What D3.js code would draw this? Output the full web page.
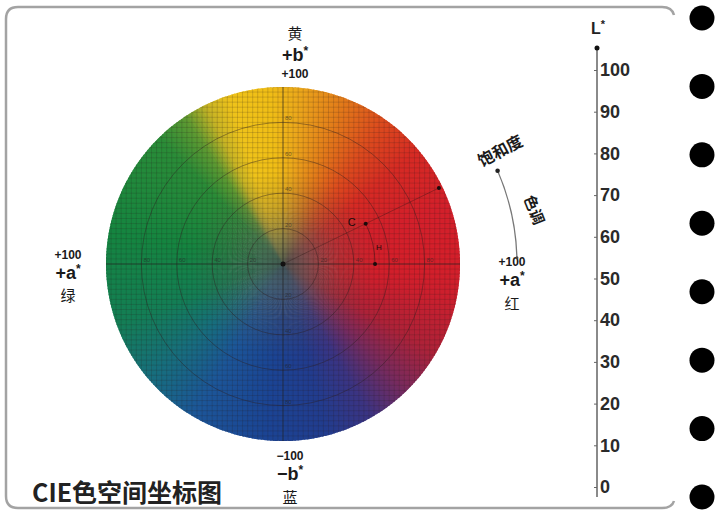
<!DOCTYPE html>
<html>
<head>
<meta charset="utf-8">
<script src="https://cdn.jsdelivr.net/npm/d3@7"></script>
<style>
  body { margin: 0; background: #fff; }
  svg { display: block; }
</style>
</head>
<body>
<svg width="719" height="514"></svg>
<script>
// hue stops round the a*b* wheel, degrees counter-clockwise from +a*
const hueAngles = [0, 20, 40, 55, 70, 85, 95, 108, 116, 124, 135, 170, 200, 220, 240, 265, 285, 300, 315, 330, 350, 360];
const hueColors = ["#d41f2a", "#d3202b", "#d62a24", "#dc4a1e", "#e27a1a", "#eba81b", "#f0be16", "#efc31a",
                   "#c8b425", "#5e9a32", "#2a8c38", "#158540", "#147e55", "#176f7c", "#1c5698", "#1b4494",
                   "#223c8e", "#3b3483", "#7a2a5c", "#ad2238", "#cd1f2d", "#d41f2a"];
const ringValues = [20, 40, 60, 80];
const lTicks = [0, 10, 20, 30, 40, 50, 60, 70, 80, 90, 100];
const holes = [0, 1, 2, 3, 4, 5, 6, 7];
// sample colour: hue angle, chroma of hue arc, chroma of outer point
const sample = {hue: 26, arc: 52, outer: 98};
// axis end labels: top, left, right, bottom
const ends = [
    {name: "黄", axis: "+b", value: "+100"},
    {name: "绿", axis: "+a", value: "+100"},
    {name: "红", axis: "+a", value: "+100"},
    {name: "蓝", axis: "−b", value: "−100"}
];

const svg = d3.select("svg");
const cx = 283, cy = 264, R = 177;
const sans = "'Liberation Sans', Arial, sans-serif";
const cjk = "'Noto Sans CJK SC', sans-serif";

// scales
const x = d3.scaleLinear().domain([-100, 100]).range([-R, R]);
const y = d3.scaleLinear().domain([-100, 100]).range([R, -R]);
const chroma = d3.scaleLinear().domain([0, 100]).range([0, R]);
const hueColor = d3.scaleLinear().domain(hueAngles).range(hueColors).interpolate(d3.interpolateRgb);
const rad = Math.PI / 180;

// border (right side is open)
svg.append("path")
    .attr("d", "M674,15 Q672,7 662,7 L18,7 Q6,7 6,19 L6,496 Q6,508 18,508 L662,508 Q672,508 674,501")
    .attr("fill", "none")
    .attr("stroke", "#a3a3a3")
    .attr("stroke-width", 2.5);

const defs = svg.append("defs");
defs.append("clipPath").attr("id", "wheelClip")
  .append("circle").attr("r", R);

const grad = defs.append("radialGradient").attr("id", "desat");
grad.append("stop").attr("offset", "0%").attr("stop-color", "#3f524d").attr("stop-opacity", 0.9);
grad.append("stop").attr("offset", "15%").attr("stop-color", "#4d5a55").attr("stop-opacity", 0.6);
grad.append("stop").attr("offset", "32%").attr("stop-color", "#5e5a50").attr("stop-opacity", 0.25);
grad.append("stop").attr("offset", "52%").attr("stop-color", "#605448").attr("stop-opacity", 0);

const wheel = svg.append("g")
    .attr("transform", `translate(${cx},${cy})`);

// hue wedges
const arc = d3.arc().innerRadius(0).outerRadius(R);
wheel.append("g").selectAll("path")
    .data(d3.range(0, 360, 1))
    .join("path")
      .attr("d", d => arc({startAngle: (90 - d - 1.3) * rad, endAngle: (90 - d + 0.3) * rad}))
      .attr("fill", d => hueColor(d + 0.5));

wheel.append("circle")
    .attr("r", R)
    .attr("fill", "url(#desat)");

// fine grid
const gridVals = d3.range(-100, 100.01, 20 / 7);
const grid = wheel.append("g").attr("clip-path", "url(#wheelClip)")
    .attr("stroke", "#2a1e1e").attr("stroke-opacity", 0.22).attr("stroke-width", 0.8);
grid.selectAll("line.v").data(gridVals).join("line").attr("class", "v")
    .attr("x1", d => x(d)).attr("x2", d => x(d)).attr("y1", -R).attr("y2", R);
grid.selectAll("line.h").data(gridVals).join("line").attr("class", "h")
    .attr("y1", d => y(d)).attr("y2", d => y(d)).attr("x1", -R).attr("x2", R);

// rings
wheel.selectAll("circle.ring")
    .data(ringValues)
    .join("circle")
      .attr("class", "ring")
      .attr("r", d => chroma(d))
      .attr("fill", "none")
      .attr("stroke", "#2a1c1c")
      .attr("stroke-opacity", 0.42)
      .attr("stroke-width", 1);

// axes through centre
wheel.append("line").attr("x1", x(-100)).attr("x2", x(100)).attr("y1", 0).attr("y2", 0)
    .attr("stroke", "#222").attr("stroke-opacity", 0.55);
wheel.append("line").attr("y1", y(-100)).attr("y2", y(100)).attr("x1", 0).attr("x2", 0)
    .attr("stroke", "#222").attr("stroke-opacity", 0.55);
wheel.append("circle").attr("r", 2.5).attr("fill", "#111");

// tiny ring labels on the axes
const tiny = wheel.append("g")
    .style("font-family", sans).style("font-size", "6px").attr("fill", "#222").attr("fill-opacity", 0.6);
ringValues.forEach(v => {
    tiny.append("text").attr("x", x(v) + 2).attr("y", -2).text(v);
    tiny.append("text").attr("x", x(-v) + 2).attr("y", -2).text(v);
    tiny.append("text").attr("x", 2).attr("y", y(v) - 2).text(v);
    tiny.append("text").attr("x", 2).attr("y", y(-v) - 2).text(v);
});

// sample point: chroma line and hue arc
const hx = v => chroma(v) * Math.cos(sample.hue * rad);
const hy = v => -chroma(v) * Math.sin(sample.hue * rad);
wheel.append("line").attr("x1", 0).attr("y1", 0).attr("x2", hx(sample.outer)).attr("y2", hy(sample.outer))
    .attr("stroke", "#2a1414").attr("stroke-opacity", 0.35);
const hp = d3.path();
hp.arc(0, 0, chroma(sample.arc), 0, -sample.hue * rad, true);
wheel.append("path").attr("d", hp.toString())
    .attr("fill", "none").attr("stroke", "#2a1414").attr("stroke-opacity", 0.45);
wheel.append("circle").attr("cx", chroma(sample.arc)).attr("cy", 0).attr("r", 2).attr("fill", "#1a0a0a");
wheel.append("circle").attr("cx", hx(sample.arc)).attr("cy", hy(sample.arc)).attr("r", 2).attr("fill", "#1a0a0a");
wheel.append("circle").attr("cx", hx(sample.outer)).attr("cy", hy(sample.outer)).attr("r", 2).attr("fill", "#1a0a0a");
wheel.append("text").attr("x", hx(sample.arc) - 18).attr("y", hy(sample.arc) + 2)
    .style("font-family", sans).style("font-size", "11px").attr("fill", "#1a0a0a").text("C");
wheel.append("text").attr("x", chroma(sample.arc) + 1).attr("y", -14)
    .style("font-family", sans).style("font-size", "8px").attr("fill", "#1a0a0a").text("H");

// axis end labels: baselines of value, axis name and colour name
const endPos = [
    {x: cx + 12, v: 78, a: 61, n: 39},
    {x: 68, v: 259, a: 279, n: 301},
    {x: 512, v: 266, a: 286, n: 309},
    {x: cx + 7, v: 460, a: 480, n: 503}
];
const endLabels = svg.append("g").attr("fill", "#1a1a1a").attr("text-anchor", "middle");
ends.forEach((e, i) => {
    const p = endPos[i];
    endLabels.append("text").attr("x", p.x).attr("y", p.v)
        .style("font-family", sans).style("font-size", "12px").style("font-weight", "bold").text(e.value);
    const t = endLabels.append("text").attr("x", p.x).attr("y", p.a)
        .style("font-family", sans).style("font-size", "18px").style("font-weight", "bold");
    t.append("tspan").text(e.axis);
    t.append("tspan").attr("dy", -6).style("font-size", "12px").text("*");
    endLabels.append("text").attr("x", p.x).attr("y", p.n)
        .style("font-family", cjk).style("font-size", "15px").text(e.name);
});

// hue / saturation arrow arc outside the wheel
const ap = d3.path();
const aR = 234;
ap.moveTo(cx + aR * Math.cos(-1.5 * rad), cy + aR * Math.sin(-1.5 * rad));
ap.arc(cx, cy, aR, -1.5 * rad, -23.5 * rad, true);
svg.append("path").attr("d", ap.toString())
    .attr("fill", "none").attr("stroke", "#777").attr("stroke-width", 1.3);
svg.append("circle")
    .attr("cx", cx + aR * Math.cos(-23.5 * rad)).attr("cy", cy + aR * Math.sin(-23.5 * rad))
    .attr("r", 2.3).attr("fill", "#222");
svg.append("circle")
    .attr("cx", cx + aR * Math.cos(-1.5 * rad)).attr("cy", cy + aR * Math.sin(-1.5 * rad))
    .attr("r", 1.5).attr("fill", "#444");
svg.append("text")
    .attr("transform", "translate(503,156) rotate(-28)")
    .attr("text-anchor", "middle")
    .style("font-family", cjk).style("font-size", "16px").style("font-weight", "bold")
    .attr("fill", "#1a1a1a").text("饱和度");
svg.append("text")
    .attr("transform", "translate(529,212) rotate(68)")
    .attr("text-anchor", "middle")
    .style("font-family", cjk).style("font-size", "15px").style("font-weight", "bold")
    .attr("fill", "#1a1a1a").text("色调");

// L* axis
const L = d3.scaleLinear().domain([0, 100]).range([487, 70]);
svg.append("line").attr("x1", 597).attr("x2", 597).attr("y1", 48).attr("y2", 497)
    .attr("stroke", "#8a8a8a").attr("stroke-width", 2);
svg.append("circle").attr("cx", 597).attr("cy", 48).attr("r", 2.5).attr("fill", "#111");
const lAxis = svg.append("g")
    .attr("transform", "translate(597,0)")
    .call(d3.axisRight(L).tickValues(lTicks).tickSizeInner(-3).tickSizeOuter(0).tickPadding(3));
lAxis.select(".domain").remove();
lAxis.selectAll("line").attr("stroke", "#666");
lAxis.selectAll("text")
    .style("font-family", sans).style("font-size", "18px").style("font-weight", "bold").attr("fill", "#2a2a2a");
const lt = svg.append("text").attr("x", 591).attr("y", 34)
    .style("font-family", sans).style("font-size", "16px").style("font-weight", "bold").attr("fill", "#222");
lt.append("tspan").text("L");
lt.append("tspan").attr("dy", -6).style("font-size", "11px").text("*");

// binder holes
const holeY = d3.scaleLinear().domain([0, 7]).range([18, 497]);
svg.selectAll("circle.hole")
    .data(holes)
    .join("circle")
      .attr("class", "hole")
      .attr("cx", 702)
      .attr("cy", d => holeY(d))
      .attr("r", 12.5)
      .attr("fill", "#000");

// title
svg.append("text")
    .attr("x", 32).attr("y", 502)
    .style("font-family", cjk).style("font-size", "25px").style("font-weight", "bold")
    .attr("fill", "#222")
    .text("CIE色空间坐标图");
</script>
</body>
</html>
